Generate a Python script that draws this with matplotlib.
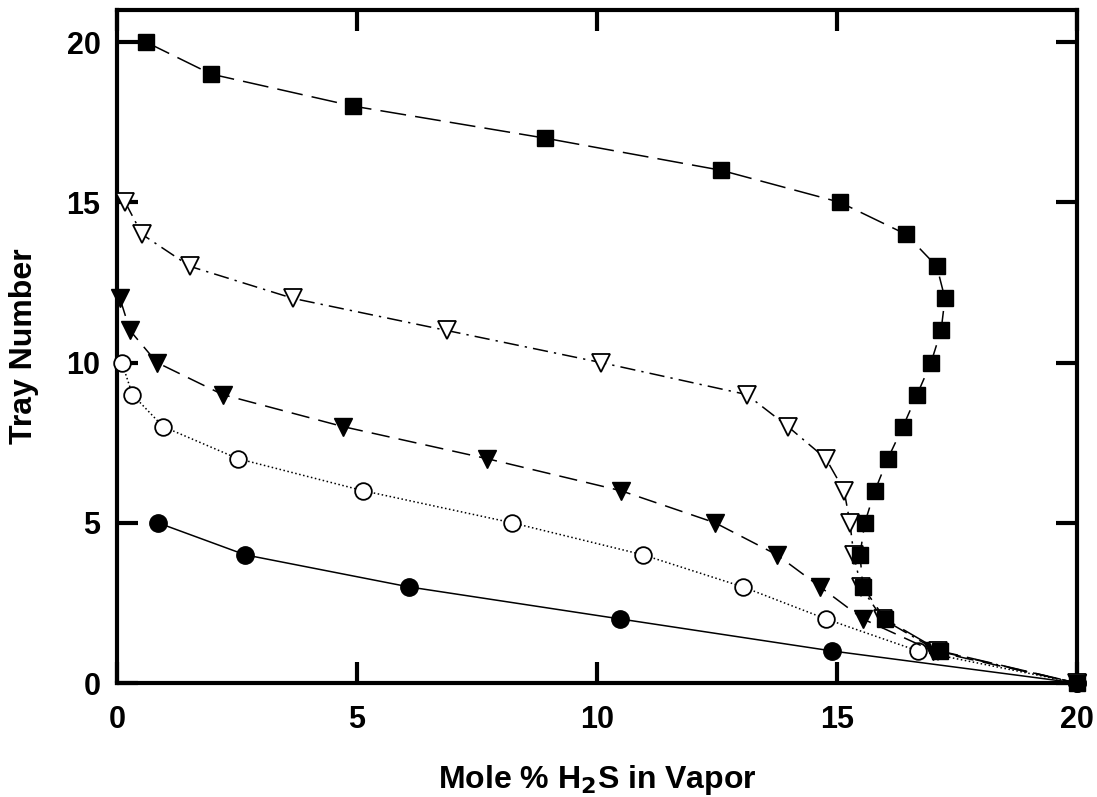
import numpy as np
import matplotlib.pyplot as plt

plt.rcParams['font.family'] = ['Liberation Sans', 'DejaVu Sans']
plt.rcParams['font.weight'] = 'bold'

# tray numbers and mole % H2S in vapor for each curve
trays_sq = [20, 19, 18, 17, 16, 15, 14, 13, 12, 11, 10, 9, 8, 7, 6, 5, 4, 3, 2, 1, 0]
x_sq = [0.6, 1.96, 4.92, 8.92, 12.58, 15.06, 16.44, 17.08, 17.25, 17.17, 16.96,
        16.67, 16.375, 16.06, 15.79, 15.58, 15.48, 15.54, 16.0, 17.15, 20.0]

trays_otri = [15, 14, 13, 12, 11, 10, 9, 8, 7, 6, 5, 4, 3, 2, 1, 0]
x_otri = [0.17, 0.52, 1.52, 3.67, 6.87, 10.08, 13.12, 13.98, 14.77, 15.15,
          15.27, 15.35, 15.5, 15.95, 17.1, 20.0]

trays_ftri = [12, 11, 10, 9, 8, 7, 6, 5, 4, 3, 2, 1, 0]
x_ftri = [0.06, 0.27, 0.83, 2.2, 4.71, 7.71, 10.5, 12.46, 13.75, 14.65, 15.54, 17.0, 20.0]

trays_ocir = [10, 9, 8, 7, 6, 5, 4, 3, 2, 1, 0]
x_ocir = [0.1, 0.32, 0.96, 2.52, 5.13, 8.23, 10.96, 13.04, 14.77, 16.69, 20.0]

trays_fcir = [5, 4, 3, 2, 1, 0]
x_fcir = [0.85, 2.67, 6.08, 10.48, 14.9, 20.0]

fig = plt.figure(figsize=(10.97, 7.97), dpi=100)
ax = fig.add_axes([0.1067, 0.143, 0.875, 0.8445])

lw = 1.1
ax.plot(x_fcir, trays_fcir, '-', color='black', lw=lw, marker='o', ms=12.5,
        mfc='black', mec='black', clip_on=False, zorder=3)
ax.plot(x_ocir, trays_ocir, ':', color='black', lw=lw, marker='o', ms=12,
        mfc='white', mec='black', mew=1.3, clip_on=False, zorder=3)
ax.plot(x_ftri, trays_ftri, color='black', lw=lw, dashes=(12, 6), marker='v', ms=13,
        mfc='black', mec='black', clip_on=False, zorder=3)
ax.plot(x_otri, trays_otri, color='black', lw=lw, dashes=(10, 4, 1.5, 4), marker='v', ms=13,
        mfc='white', mec='black', mew=1.3, clip_on=False, zorder=3)
ax.plot(x_sq, trays_sq, color='black', lw=lw, dashes=(17, 6), marker='s', ms=11.5,
        mfc='black', mec='black', clip_on=False, zorder=4)

ax.set_xlim(0, 20)
ax.set_ylim(0, 21)
ax.set_xticks([0, 5, 10, 15, 20])
ax.set_yticks([0, 5, 10, 15, 20])

for s in ax.spines.values():
    s.set_linewidth(3)
ax.tick_params(direction='in', length=15, width=3, top=True, right=True,
               labelsize=22, pad=12)
ax.tick_params(axis='x', pad=16)

ax.set_xlabel('Mole % H$_\\mathbf{2}$S in Vapor', fontsize=23, fontweight='bold', labelpad=20)
ax.set_ylabel('Tray Number', fontsize=23, fontweight='bold', labelpad=20)

fig.savefig('out.png', dpi=100)
